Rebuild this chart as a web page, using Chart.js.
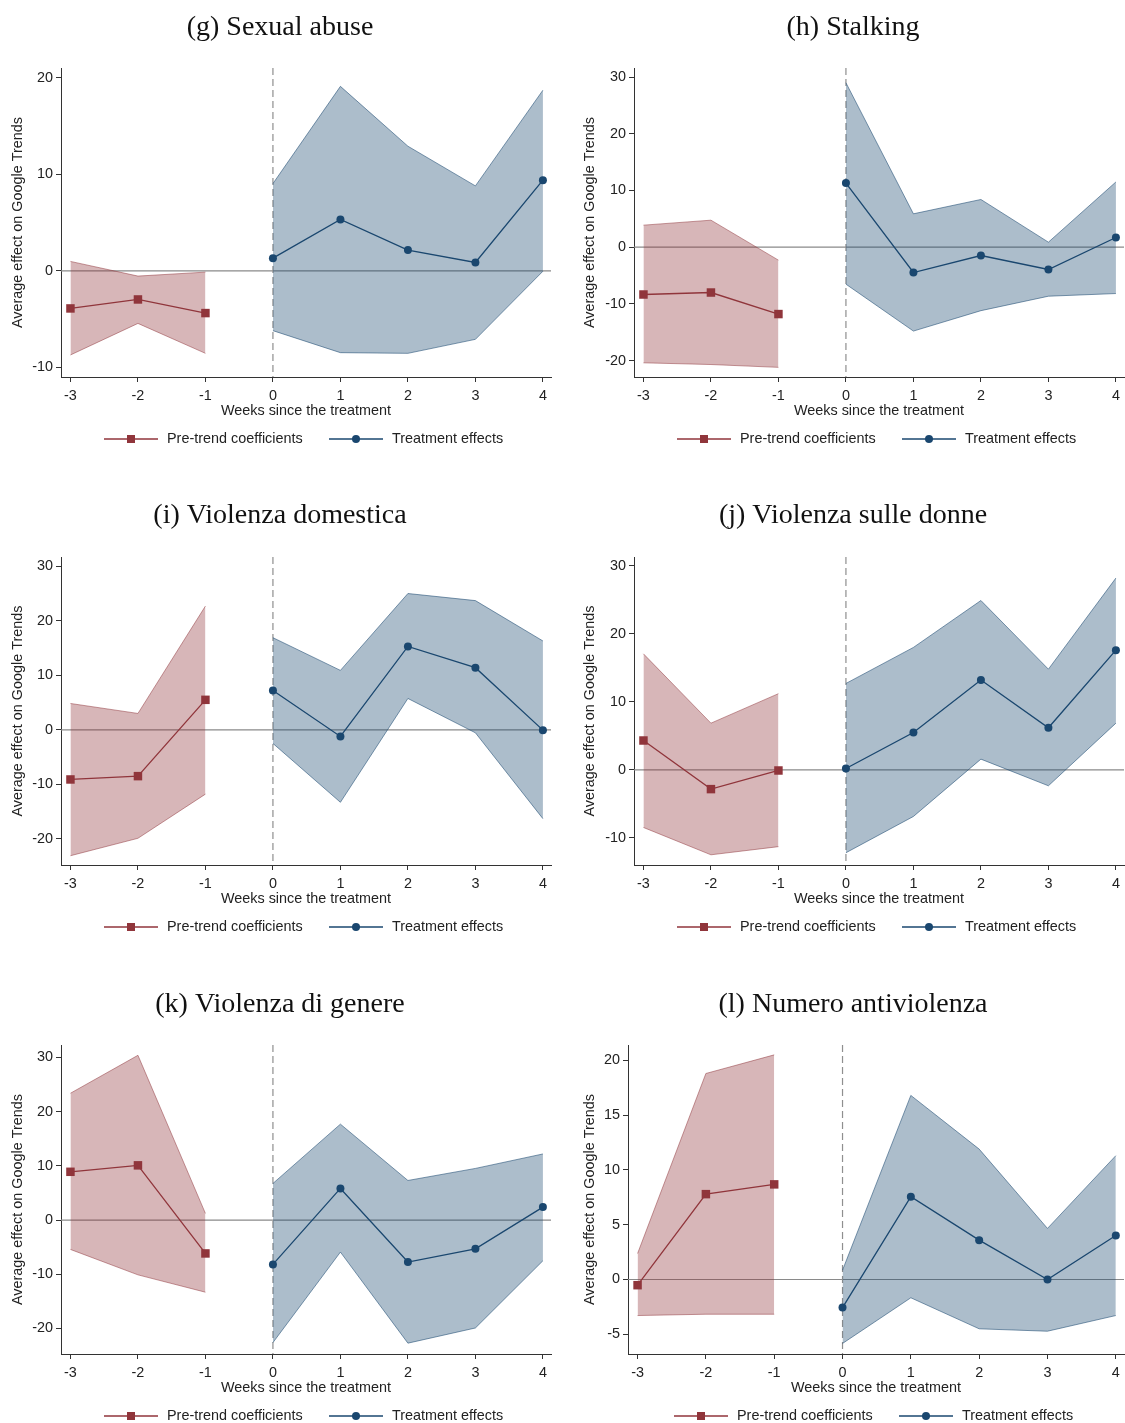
<!DOCTYPE html>
<html>
<head>
<meta charset="utf-8">
<title>Event-study estimates on Google Trends</title>
<script src="https://cdn.jsdelivr.net/npm/chart.js@4.4.1/dist/chart.umd.min.js"></script>
<style>
  html, body { margin: 0; padding: 0; background: #ffffff; }
  body { position: relative; width: 1125px; height: 1423px; overflow: hidden; }
  canvas { position: absolute; }
</style>
</head>
<body>
<canvas id="p0"></canvas>
<canvas id="p1"></canvas>
<canvas id="p2"></canvas>
<canvas id="p3"></canvas>
<canvas id="p4"></canvas>
<canvas id="p5"></canvas>
<script>
// Weeks relative to the treatment
const weeksPre = [-3, -2, -1];
const weeksPost = [0, 1, 2, 3, 4];
const weekTicks = [-3, -2, -1, 0, 1, 2, 3, 4];

// (g) Sexual abuse
const sexualAbusePre = [-3.9, -2.97, -4.38];
const sexualAbusePreLo = [-8.72, -5.45, -8.55];
const sexualAbusePreHi = [0.97, -0.55, -0.14];
const sexualAbusePost = [1.31, 5.31, 2.14, 0.86, 9.38];
const sexualAbusePostLo = [-6.2, -8.48, -8.55, -7.1, -0.05];
const sexualAbusePostHi = [9.03, 19.1, 12.9, 8.79, 18.7];
const sexualAbuseTicks = [-10, 0, 10, 20];

// (h) Stalking
const stalkingPre = [-8.35, -8.0, -11.8];
const stalkingPreLo = [-20.4, -20.7, -21.2];
const stalkingPreHi = [3.88, 4.76, -2.29];
const stalkingPost = [11.3, -4.47, -1.47, -3.94, 1.71];
const stalkingPostLo = [-6.53, -14.8, -11.2, -8.65, -8.18];
const stalkingPostHi = [29.0, 5.88, 8.41, 0.88, 11.5];
const stalkingTicks = [-20, -10, 0, 10, 20, 30];

// (i) Violenza domestica
const domesticaPre = [-9.11, -8.5, 5.5];
const domesticaPreLo = [-23.1, -19.9, -11.8];
const domesticaPreHi = [4.83, 3.0, 22.7];
const domesticaPost = [7.22, -1.22, 15.3, 11.4, -0.06];
const domesticaPostLo = [-2.5, -13.3, 5.75, -0.55, -16.3];
const domesticaPostHi = [16.9, 10.9, 25.0, 23.7, 16.3];
const domesticaTicks = [-20, -10, 0, 10, 20, 30];

// (j) Violenza sulle donne
const donnePre = [4.31, -2.84, -0.1];
const donnePreLo = [-8.48, -12.5, -11.3];
const donnePreHi = [17.06, 6.86, 11.2];
const donnePost = [0.2, 5.49, 13.2, 6.18, 17.6];
const donnePostLo = [-12.2, -6.86, 1.57, -2.35, 6.86];
const donnePostHi = [12.7, 18.0, 24.9, 14.8, 28.2];
const donneTicks = [-10, 0, 10, 20, 30];

// (k) Violenza di genere
const generePre = [8.91, 10.1, -6.15];
const generePreLo = [-5.41, -10.1, -13.3];
const generePreHi = [23.4, 30.4, 1.23];
const generePost = [-8.17, 5.84, -7.74, -5.29, 2.4];
const generePostLo = [-22.6, -5.9, -22.7, -19.9, -7.5];
const generePostHi = [6.76, 17.7, 7.31, 9.53, 12.2];
const genereTicks = [-20, -10, 0, 10, 20, 30];

// (l) Numero antiviolenza
const numeroPre = [-0.52, 7.79, 8.68];
const numeroPreLo = [-3.29, -3.17, -3.17];
const numeroPreHi = [2.37, 18.8, 20.5];
const numeroPost = [-2.56, 7.55, 3.59, 0.0, 4.02];
const numeroPostLo = [-5.84, -1.67, -4.5, -4.72, -3.29];
const numeroPostHi = [0.85, 16.8, 11.9, 4.66, 11.3];
const numeroTicks = [-5, 0, 5, 10, 15, 20];

const legendLabels = ['Pre-trend coefficients', 'Treatment effects'];
const yTitle = 'Average effect on Google Trends';
const xTitle = 'Weeks since the treatment';

const MAROON = '#90353b';
const NAVY = '#1a476f';
const MAROON_FILL = 'rgba(144,53,59,0.36)';
const MAROON_EDGE = 'rgba(144,53,59,0.5)';
const NAVY_FILL = 'rgba(26,71,111,0.36)';
const NAVY_EDGE = 'rgba(26,71,111,0.55)';
const SANS = '"Liberation Sans", Arial, sans-serif';
const SERIF = '"Liberation Serif", "Times New Roman", serif';

Chart.defaults.font.family = SANS;
Chart.defaults.font.size = 14.4;
Chart.defaults.color = '#222';

const pts = (xs, ys) => xs.map((x, i) => ({ x: x, y: ys[i] }));

// Panel geometry: canvas box on the page and plot area inside it
// (right-hand canvases run past the page edge so the axis can reach it)
const cols = [{ x: 0, w: 562, titleX: 280 }, { x: 572, w: 566, titleX: 281 }];
const rows = [{ y: 0, h: 488 }, { y: 488, h: 489 }, { y: 977, h: 446 }];

const panels = [
  { title: '(g) Sexual abuse', col: 0, row: 0, area: { l: 61, r: 551, t: 68, b: 377 }, yMin: -11, yMax: 21,
    pre: sexualAbusePre, preLo: sexualAbusePreLo, preHi: sexualAbusePreHi,
    post: sexualAbusePost, postLo: sexualAbusePostLo, postHi: sexualAbusePostHi, ticks: sexualAbuseTicks },
  { title: '(h) Stalking', col: 1, row: 0, area: { l: 62, r: 552, t: 68, b: 377 }, yMin: -22.9, yMax: 31.6,
    pre: stalkingPre, preLo: stalkingPreLo, preHi: stalkingPreHi,
    post: stalkingPost, postLo: stalkingPostLo, postHi: stalkingPostHi, ticks: stalkingTicks },
  { title: '(i) Violenza domestica', col: 0, row: 1, area: { l: 61, r: 551, t: 69, b: 377 }, yMin: -24.8, yMax: 31.7,
    pre: domesticaPre, preLo: domesticaPreLo, preHi: domesticaPreHi,
    post: domesticaPost, postLo: domesticaPostLo, postHi: domesticaPostHi, ticks: domesticaTicks },
  { title: '(j) Violenza sulle donne', col: 1, row: 1, area: { l: 62, r: 552, t: 69, b: 377 }, yMin: -14.0, yMax: 31.3,
    pre: donnePre, preLo: donnePreLo, preHi: donnePreHi,
    post: donnePost, postLo: donnePostLo, postHi: donnePostHi, ticks: donneTicks },
  { title: '(k) Violenza di genere', col: 0, row: 2, area: { l: 61, r: 551, t: 68, b: 377 }, yMin: -24.7, yMax: 32.3,
    pre: generePre, preLo: generePreLo, preHi: generePreHi,
    post: generePost, postLo: generePostLo, postHi: generePostHi, ticks: genereTicks },
  { title: '(l) Numero antiviolenza', col: 1, row: 2, area: { l: 56, r: 552, t: 68, b: 377 }, yMin: -6.8, yMax: 21.4,
    pre: numeroPre, preLo: numeroPreLo, preHi: numeroPreHi,
    post: numeroPost, postLo: numeroPostLo, postHi: numeroPostHi, ticks: numeroTicks }
];

// Reference lines under the estimates, titles and legend on top
const decor = {
  id: 'decor',
  beforeDatasetsDraw(chart, args, opts) {
    const { ctx, chartArea: a, scales } = chart;
    const y0 = scales.y.getPixelForValue(0);
    const x0 = scales.x.getPixelForValue(0);
    ctx.save();
    ctx.strokeStyle = '#8a8a8a';
    ctx.lineWidth = 1.2;
    ctx.beginPath();
    ctx.moveTo(a.left, y0);
    ctx.lineTo(a.right, y0);
    ctx.stroke();
    ctx.setLineDash([7, 4]);
    ctx.strokeStyle = '#8f8f8f';
    ctx.beginPath();
    ctx.moveTo(x0, a.top);
    ctx.lineTo(x0, a.bottom);
    ctx.stroke();
    ctx.restore();
  },
  afterDraw(chart, args, opts) {
    const { ctx, chartArea: a } = chart;
    ctx.save();
    ctx.fillStyle = '#111';
    ctx.textBaseline = 'middle';
    ctx.textAlign = 'center';
    ctx.font = '28px ' + SERIF;
    ctx.fillText(opts.title, opts.titleX, 28);

    ctx.fillStyle = '#222';
    ctx.font = '14.4px ' + SANS;
    ctx.fillText(xTitle, (a.left + a.right) / 2, a.bottom + 34);

    ctx.save();
    ctx.translate(18, (a.top + a.bottom) / 2);
    ctx.rotate(-Math.PI / 2);
    ctx.fillText(yTitle, 0, 0);
    ctx.restore();

    // legend
    const ly = a.bottom + 62;
    const start = (a.left + a.right) / 2 - 202;
    const items = [
      { x: start, color: MAROON, shape: 'rect' },
      { x: start + 225, color: NAVY, shape: 'circle' }
    ];
    items.forEach((it, i) => {
      ctx.strokeStyle = it.color;
      ctx.lineWidth = 1.3;
      ctx.beginPath();
      ctx.moveTo(it.x, ly);
      ctx.lineTo(it.x + 54, ly);
      ctx.stroke();
      ctx.fillStyle = it.color;
      if (it.shape === 'rect') {
        ctx.fillRect(it.x + 27 - 4, ly - 4, 8, 8);
      } else {
        ctx.beginPath();
        ctx.arc(it.x + 27, ly, 4, 0, Math.PI * 2);
        ctx.fill();
      }
      ctx.fillStyle = '#222';
      ctx.textAlign = 'left';
      ctx.fillText(legendLabels[i], it.x + 63, ly);
    });
    ctx.restore();
  }
};

panels.forEach((p, idx) => {
  const col = cols[p.col], row = rows[p.row];
  const cv = document.getElementById('p' + idx);
  cv.width = col.w;
  cv.height = row.h;
  cv.style.left = col.x + 'px';
  cv.style.top = row.y + 'px';
  cv.style.width = col.w + 'px';
  cv.style.height = row.h + 'px';

  const axisStyle = {
    grid: { drawOnChartArea: false, drawTicks: true, tickLength: 5, color: '#333', lineWidth: 1 },
    border: { display: true, color: '#333', width: 1 }
  };

  const chart = new Chart(cv, {
    type: 'line',
    data: {
      datasets: [
        { data: pts(weeksPre, p.pre), borderColor: MAROON, borderWidth: 1.3, pointStyle: 'rect',
          pointRadius: 6, pointBackgroundColor: MAROON, pointBorderColor: MAROON, pointBorderWidth: 0, fill: false },
        { data: pts(weeksPost, p.post), borderColor: NAVY, borderWidth: 1.3, pointStyle: 'circle',
          pointRadius: 4, pointBackgroundColor: NAVY, pointBorderColor: NAVY, pointBorderWidth: 0, fill: false },
        { data: pts(weeksPre, p.preHi), borderColor: MAROON_EDGE, borderWidth: 1, pointRadius: 0,
          backgroundColor: MAROON_FILL, fill: '+1' },
        { data: pts(weeksPre, p.preLo), borderColor: MAROON_EDGE, borderWidth: 1, pointRadius: 0, fill: false },
        { data: pts(weeksPost, p.postHi), borderColor: NAVY_EDGE, borderWidth: 1, pointRadius: 0,
          backgroundColor: NAVY_FILL, fill: '+1' },
        { data: pts(weeksPost, p.postLo), borderColor: NAVY_EDGE, borderWidth: 1, pointRadius: 0, fill: false }
      ]
    },
    options: {
      responsive: false,
      animation: false,
      devicePixelRatio: 1,
      events: [],
      layout: { padding: { left: 0, right: col.w - p.area.r, top: p.area.t, bottom: row.h - p.area.b - 40 } },
      plugins: {
        legend: { display: false },
        tooltip: { enabled: false },
        decor: { title: p.title, titleX: col.titleX }
      },
      scales: {
        x: Object.assign({
          type: 'linear', min: -3.14, max: 4.12,
          afterBuildTicks: s => { s.ticks = weekTicks.map(v => ({ value: v })); },
          afterFit: s => { s.height = 40; },
          ticks: { padding: 5, maxRotation: 0, autoSkip: false, color: '#222', callback: v => String(v) }
        }, axisStyle),
        y: Object.assign({
          type: 'linear', min: p.yMin, max: p.yMax,
          afterBuildTicks: s => { s.ticks = p.ticks.map(v => ({ value: v })); },
          afterFit: s => { s.width = p.area.l; },
          ticks: { padding: 3, color: '#222', callback: v => String(v) }
        }, axisStyle)
      }
    },
    plugins: [decor]
  });

  // nudge the layout padding so the plot area lands on the intended box
  for (let k = 0; k < 3; k++) {
    const a = chart.chartArea;
    const pad = chart.options.layout.padding;
    const dR = a.right - p.area.r, dT = a.top - p.area.t, dB = a.bottom - p.area.b;
    if (Math.abs(dR) < 0.5 && Math.abs(dT) < 0.5 && Math.abs(dB) < 0.5) break;
    pad.right = Math.max(0, pad.right + dR);
    pad.top = pad.top - dT;
    pad.bottom = Math.max(0, pad.bottom + dB);
    chart.update();
  }
});
</script>
</body>
</html>
